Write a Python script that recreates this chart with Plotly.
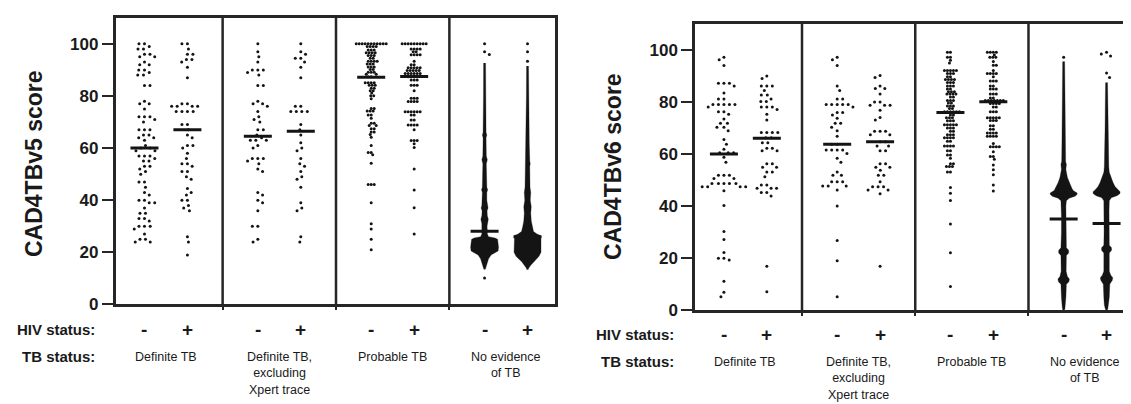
import plotly.graph_objects as go

# ---------------- data ----------------
tb_groups = ["Definite TB", "Definite TB,\nexcluding\nXpert trace", "Probable TB", "No evidence\nof TB"]
hiv_labels = ["-", "+"]
score_ticks = [0, 20, 40, 60, 80, 100]
panel_titles = ["CAD4TBv5 score", "CAD4TBv6 score"]

# ---- CAD4TBv5 individual scores ----
v5_def_neg = [100, 100, 99, 98, 98, 96, 96, 95, 95, 93, 92, 92, 90, 90, 89, 88, 88, 84, 84,
              78, 77, 77, 75, 72, 72, 72, 71, 70, 67, 67, 67, 65, 65, 64, 64, 63, 61, 60, 60,
              59, 59, 57, 57, 57, 56, 55, 55, 53, 53, 52, 51, 50, 47, 47, 45, 43, 42, 40, 40,
              39, 39, 37, 35, 35, 33, 33, 32, 30, 30, 30, 29, 27, 25, 25, 24, 24]
v5_def_pos = [100, 100, 98, 96, 96, 94, 94, 93, 91, 87, 77, 77, 76, 76, 76, 76, 74, 74, 74, 74,
              69, 69, 67, 65, 64, 61, 61, 60, 58, 56, 54, 54, 53, 51, 51, 49, 48, 44.5, 43, 42,
              40, 40, 38, 37, 36, 26, 24, 19]
v5_exc_neg = [100, 97, 95, 93, 90, 90, 90, 89, 88, 84, 84, 78, 77, 77, 76, 74, 72, 71, 70, 67,
              67, 65, 64, 63, 63, 63, 61, 60, 56, 56, 56, 55, 54, 52, 51, 43, 42, 40, 39, 36,
              30, 30, 25, 24]
v5_exc_pos = [100, 97, 96, 94.5, 94.5, 93, 91, 87, 76, 76, 74, 74, 74, 74, 69, 67, 65, 62, 60,
              59, 56, 54, 53, 51, 49, 48, 45, 39, 37, 36, 26, 24]
v5_prob_neg = [100, 100, 100, 100, 100, 100, 100, 100, 100, 100, 100,
               99, 99, 99, 99, 97.6, 97.6, 97.6, 96.6, 96.6, 96.6, 96.6, 95.5, 95.5, 95.5,
               94.5, 94.5, 93.3, 93.3, 93.3, 93.3, 92.3, 92.3, 92.3, 91.1, 91.1, 91.1,
               90.1, 90.1, 89.1, 89.1, 89.1, 88.3, 88.3, 87.4, 87.4,
               85.1, 85.1, 85.1, 85.1, 84.1, 84.1, 84.1, 83, 83, 82, 82, 81.1, 80.1, 80.1,
               78.9, 75.2, 75.2, 74.2, 74.2, 74.2, 72.7, 72.7, 71.4, 69.5, 69.5, 68.7, 68.7,
               67.4, 67.4, 66.2, 66.2, 65.2, 64.2, 61, 58.3, 58.3, 57.4, 54.2,
               46, 46, 46, 39, 31, 29, 25, 21]
v5_prob_pos = [100, 100, 100, 100, 100, 100, 100, 100, 100,
               98, 98, 98, 98, 97, 97, 95.8, 95.8, 95.8, 95.8, 93.3, 92, 92,
               90.8, 90.8, 90.8, 90.8, 90.8, 89.8, 89.8, 89.8, 89.8, 89.8,
               88.6, 88.6, 88.6, 88.6, 88.6, 88.6, 87.4, 87.4, 87.4, 87.4,
               86.1, 86.1, 86.1, 84.1, 84.1, 84.1, 82, 79.1, 79.1, 79.1, 77.9, 77.9, 77.9, 77.9,
               73.9, 73.9, 73.9, 73.9, 73.9, 73.9, 72.7, 72.7, 70.8, 70.8,
               68.9, 68.9, 68.9, 68.9, 67, 62.9, 62.9, 62.9, 61.7, 60.2, 52, 43.9, 37.1, 27]
v5_none_neg = [100, 97, 95.9, 10.2]
v5_none_pos = [100, 97, 93.3]

# ---- CAD4TBv6 individual scores ----
v6_def_neg = [97.1, 96.1, 93.9, 87.1, 87.1, 87.1, 86.1, 83.4, 81.1, 81.1, 79, 79, 79, 79, 79,
              78, 76.2, 76.2, 75.2, 73.4, 71.8, 71.8, 70.2, 70.2, 68.9, 65.5, 63.7, 61.8,
              60.5, 60.5, 60.5, 58.7, 56.8, 51.8, 51.8, 51.8, 50.6, 50.6,
              48.7, 48.7, 48.7, 48.7, 48.7, 47.4, 47.4, 47.4, 47.4, 45.9, 40.2, 30.2, 27.2,
              22.2, 20, 20, 19.3, 11.2, 6.9, 5.2]
v6_def_pos = [89.9, 88.9, 86.1, 86.1, 86.1, 84.3, 82.6, 82.6, 81.1, 80.1, 80.1, 78, 78, 78, 77,
              75.2, 73, 68.2, 68.2, 68.2, 68.2, 66.2, 66.2, 64.3, 64.3, 62.2, 62.2, 61.2, 61.2,
              56.2, 56.2, 54.9, 54.9, 53.1, 53.1, 51.2, 48.1, 48.1, 46.8, 46.8, 46.8,
              45.2, 45.2, 43.9, 16.9, 7.1]
v6_exc_neg = [97.1, 96.1, 93.9, 86.1, 84.3, 81.1, 81.1, 79, 79, 79, 79, 79, 78, 75.9, 75.9,
              74.9, 73.7, 71.8, 71.8, 70.2, 68.9, 66.8, 63.7, 63.7, 61.5, 61.5, 61.5, 61.5,
              60.2, 58.3, 56.8, 53.1, 51.8, 51.8, 49.3, 49.3, 49.3, 47.7, 47.7, 47.7, 46.2,
              40, 26.8, 19, 5.2]
v6_exc_pos = [90.1, 89.3, 86.1, 85.1, 85.1, 83, 79.9, 79.9, 78.7, 78.7, 78.7, 76.8, 74, 73,
              68.7, 68.7, 68.7, 67.4, 67.4, 64.7, 64.7, 63, 63, 61.2, 61.2, 56.2, 56.2,
              54.9, 54.9, 53.7, 51.8, 51.8, 49.3, 47.4, 47.4, 47.4, 46.2, 46.2, 44.7, 16.9]
v6_prob_neg = [99, 99, 97.1, 97.1, 95.9, 94.9, 92, 92, 92, 92, 92, 90.9, 90.9, 90.9,
               89.6, 89.6, 88.6, 88.6, 88.6, 88.6, 87.4, 87.4, 87.4, 86.1, 86.1, 86.1,
               84.9, 84.9, 83.9, 83.9, 83.9, 83, 83, 83, 83, 81.8, 81.8, 80.5, 80.5, 80.5,
               79.5, 79.5, 78.4, 78.4, 78.4, 77.4, 77.4, 76.2, 76.2, 76.2, 76.2, 76.2, 76.2,
               74.9, 74.9, 73.9, 73.9, 73.9, 72.7, 72.7, 72.7, 71.2, 71.2, 71.2, 71.2, 71.2,
               69.9, 69.9, 69.9, 68.7, 68.7, 67.4, 67.4, 67.4, 66.2, 66.2, 66.2, 66.2,
               64.9, 64.9, 63, 63, 63, 63, 61.2, 61.2, 59.6, 59.6, 58.3, 56.2, 56.2,
               55.2, 55.2, 55.2, 53.1, 53.1, 47.1, 44.9, 42.1, 33.1, 22.1, 9.1]
v6_prob_pos = [99, 99, 99, 99, 98, 97.1, 97.1, 97.1, 95.5, 94, 94, 92,
               90.9, 90.9, 90.9, 90.9, 89.6, 88, 88, 88, 86.1, 86.1, 84.9, 84.9, 84.9,
               83, 83, 83, 81.5, 81.5, 80.5, 80.5, 80.5, 80.5, 80.5, 80.5, 80.5,
               79.3, 79.3, 79.3, 79.3, 78, 78, 76.2, 76.2, 76.2, 73.9, 73.9, 73.9, 73.9, 73.9,
               72.8, 72.8, 72.8, 70.8, 70.8, 69.5, 69.5, 68, 68, 68, 68, 66.8, 66.8, 66.8, 66.8,
               64, 62.8, 62.8, 62.8, 62.8, 60.8, 59, 59, 58, 55.8, 53.9, 52, 48.1, 45.8]
v6_none_neg = [97.1]
v6_none_pos = [99, 98.3, 97.6, 91, 89.3]

# ---- medians (8 columns: group x HIV-/HIV+) ----
v5_medians = [60, 67, 64.5, 66.5, 87.2, 87.5, 28.1, 26]
v6_medians = [60, 66, 63.7, 64.7, 75.9, 80, 35, 33.3]

# ---- "No evidence of TB": too many points -> relative density profile (score level, relative density)
v5_none_neg_levels = [92.6, 80, 70, 66, 65, 64, 57, 55.5, 54, 50, 45, 44, 43, 40, 38, 37, 36, 34, 32.7,
                      31, 30, 28.3, 27, 26, 25.5, 25, 24, 22, 20.5, 19.8, 19, 17.5, 16, 14.5, 13.5]
v5_none_neg_density = [2, 2.2, 2.5, 3, 4.5, 3, 3.5, 5.5, 3.5, 4, 4.5, 6.2, 4.5, 4.5, 5.5, 7, 5, 5.5, 7.5,
                       5.5, 5, 5.5, 5.5, 8, 21, 26, 27, 28, 27, 21, 13, 8, 5, 3, 1.5]
v5_none_pos_levels = [91.5, 80, 70, 62, 55, 54, 53, 50, 45, 43, 40, 37.5, 35, 32, 30, 28, 27, 26.5,
                      25, 22, 20, 18.5, 17.5, 16.5, 15, 14, 13.4]
v5_none_pos_density = [2, 2.3, 3, 3.5, 4.5, 5.5, 4.5, 4.5, 5, 6.5, 5.5, 7.5, 6.5, 7.5, 9.5, 12, 19, 26,
                       27, 27, 27, 23, 18, 12, 6.5, 2.5, 1.5]
v6_none_neg_levels = [95.5, 80, 70, 64, 57, 56, 54, 51, 49, 47, 46, 45, 44.5, 43.8, 43, 42, 40, 36,
                      30, 27, 24, 23, 22, 21, 15, 13, 12, 11, 10, 5, 2, 0.5, 0]
v6_none_neg_density = [2, 2.5, 3, 3.5, 4, 5.5, 4.5, 7.5, 11, 16, 19, 27, 27, 23, 11, 5.5, 4.5, 4.5,
                       4.5, 4.5, 5.5, 10, 10, 5.5, 5, 7.5, 11.5, 10.5, 5.5, 4.5, 3.5, 2.5, 1]
v6_none_pos_levels = [87.4, 80, 70, 60, 55, 53, 51, 49, 47.5, 46.2, 45.5, 44.8, 44, 43.2, 42, 38,
                      30, 25, 24, 23, 22, 15, 13.5, 12.5, 11.5, 10, 5, 2, 0.5, 0]
v6_none_pos_density = [2, 2.5, 3, 3.5, 4.5, 5.5, 8.5, 13, 17, 23, 27, 27, 21, 9.5, 5.5, 5,
                       5, 5.5, 10, 10, 5.5, 5.5, 8.5, 12.5, 11.5, 6.5, 5.5, 4.5, 2.5, 1]

panel_points = [
    [v5_def_neg, v5_def_pos, v5_exc_neg, v5_exc_pos, v5_prob_neg, v5_prob_pos, v5_none_neg, v5_none_pos],
    [v6_def_neg, v6_def_pos, v6_exc_neg, v6_exc_pos, v6_prob_neg, v6_prob_pos, v6_none_neg, v6_none_pos],
]
panel_medians = [v5_medians, v6_medians]
panel_profiles = [
    [(v5_none_neg_levels, v5_none_neg_density), (v5_none_pos_levels, v5_none_pos_density)],
    [(v6_none_neg_levels, v6_none_neg_density), (v6_none_pos_levels, v6_none_pos_density)],
]

# ---------------- layout constants ----------------
W, H = 1131, 404
YMAX = 110
COL0, HIV_STEP, GROUP_STEP, XMAX = 29, 43, 113.5, 440
INK = "#141414"
FRAME = "#262626"
FONT = "Liberation Sans, Arial, sans-serif"
panels_px = [
    dict(left=107.5, right=547, top=10, bottom=304, title_x=26, title_y=160, hiv_y=330, tb_y=357),
    dict(left=687, right=1126, top=16, bottom=310, title_x=605, title_y=163, hiv_y=335, tb_y=362),
]
DENSE_COLS = {4, 5}


def col_x(j):
    return (j // 2) * GROUP_STEP + (j % 2) * HIV_STEP + COL0


def swarm(values, y_ppu, d):
    """Greedy beeswarm; returns horizontal offsets in px."""
    placed = []
    res = [0.0] * len(values)
    order = sorted(range(len(values)), key=lambda i: -values[i])
    for n, i in enumerate(order):
        y = values[i] * y_ppu
        near = [(px, py) for px, py in placed if abs(py - y) < d]
        k = 0
        best = None
        while best is None:
            if k == 0:
                cands = [0.0]
            else:
                cands = [k * 0.25, -k * 0.25] if n % 2 == 0 else [-k * 0.25, k * 0.25]
            for c in cands:
                if all((c - px) ** 2 + (y - py) ** 2 >= d * d - 1e-9 for px, py in near):
                    best = c
                    break
            k += 1
        placed.append((best, y))
        res[i] = best
    return res


fig = go.Figure()
annotations = []
shapes = []
layout_axes = {}

for p, geo in enumerate(panels_px):
    xa = "x" if p == 0 else "x2"
    ya = "y" if p == 0 else "y2"
    x_ppu = (geo["right"] - geo["left"]) / XMAX
    y_ppu = (geo["bottom"] - geo["top"]) / YMAX

    # NE density profiles (drawn as filled silhouettes)
    for h, (levels, dens) in enumerate(panel_profiles[p]):
        c = col_x(6 + h)
        xs = [c + dd / 2 / x_ppu for dd in dens] + [c - dd / 2 / x_ppu for dd in reversed(dens)]
        ys = list(levels) + list(reversed(levels))
        fig.add_trace(go.Scatter(x=xs, y=ys, xaxis=xa, yaxis=ya, mode="lines", fill="toself",
                                 fillcolor=INK, line=dict(color=INK, width=0.3),
                                 hoverinfo="skip", showlegend=False))

    # individual dots
    for j, vals in enumerate(panel_points[p]):
        d = 2.8 if j in DENSE_COLS else 5.4
        offs = swarm(vals, y_ppu, d)
        c = col_x(j)
        fig.add_trace(go.Scatter(x=[c + o / x_ppu for o in offs], y=vals, xaxis=xa, yaxis=ya,
                                 mode="markers", marker=dict(size=3, color=INK, line=dict(width=0)),
                                 showlegend=False, hoverinfo="y"))

    # medians
    for j, m in enumerate(panel_medians[p]):
        c = col_x(j)
        fig.add_trace(go.Scatter(x=[c - 14 / x_ppu, c + 14 / x_ppu], y=[m, m], xaxis=xa, yaxis=ya,
                                 mode="lines", line=dict(color=INK, width=3),
                                 showlegend=False, hoverinfo="skip"))

    # group separators
    seps = [(col_x(2 * g - 1) + col_x(2 * g)) / 2 for g in range(1, 4)]
    for s in seps:
        shapes.append(dict(type="line", xref=xa, yref=f"{ya} domain", x0=s, x1=s, y0=0, y1=1,
                           line=dict(color=FRAME, width=2.5)))

    xdom = [geo["left"] / W, geo["right"] / W]
    ydom = [1 - geo["bottom"] / H, 1 - geo["top"] / H]
    xkey = "xaxis" if p == 0 else "xaxis2"
    ykey = "yaxis" if p == 0 else "yaxis2"
    layout_axes[xkey] = dict(domain=xdom, range=[0, XMAX], anchor=ya, showline=True, mirror=True,
                             linewidth=2.5, linecolor=FRAME, showgrid=False, zeroline=False,
                             tickvals=seps, ticks="outside", ticklen=3, tickwidth=1.5,
                             tickcolor=FRAME, showticklabels=False, fixedrange=True)
    layout_axes[ykey] = dict(domain=ydom, range=[0, YMAX], anchor=xa, showline=True, mirror=True,
                             linewidth=2.5, linecolor=FRAME, showgrid=False, zeroline=False,
                             tickvals=score_ticks, ticks="outside", ticklen=11, tickwidth=2,
                             tickcolor=FRAME,
                             tickfont=dict(family=FONT, size=17, color="#1a1a1a", weight="bold"),
                             fixedrange=True)

    # y title
    annotations.append(dict(text=panel_titles[p], xref="paper", yref="paper",
                            x=geo["title_x"] / W, y=1 - geo["title_y"] / H, textangle=-90,
                            showarrow=False, xanchor="center", yanchor="middle",
                            font=dict(family=FONT, size=23, color="#1a1a1a", weight="bold")))
    # row labels
    for txt, yy in (("HIV status:", geo["hiv_y"]), ("TB status:", geo["tb_y"])):
        annotations.append(dict(text=txt, xref="paper", yref="paper", x=(geo["left"] - 19) / W,
                                y=1 - yy / H, xanchor="right", yanchor="middle", showarrow=False,
                                font=dict(family=FONT, size=15, color="#1a1a1a", weight="bold")))
    for j in range(8):
        annotations.append(dict(text=hiv_labels[j % 2], xref=xa, yref="paper", x=col_x(j),
                                y=1 - geo["hiv_y"] / H, xanchor="center", yanchor="middle",
                                showarrow=False,
                                font=dict(family=FONT, size=19, color="#1a1a1a", weight="bold")))
    for g, lab in enumerate(tb_groups):
        cx = (col_x(2 * g) + col_x(2 * g + 1)) / 2
        annotations.append(dict(text=lab.replace("\n", "<br>"), xref=xa, yref="paper", x=cx,
                                y=1 - (geo["tb_y"] - 8) / H, xanchor="center", yanchor="top",
                                align="center", showarrow=False,
                                font=dict(family=FONT, size=12.5, color="#1a1a1a")))

fig.update_layout(width=W, height=H, margin=dict(l=0, r=0, t=0, b=0), autosize=False,
                  plot_bgcolor="white", paper_bgcolor="white", showlegend=False,
                  annotations=annotations, shapes=shapes, **layout_axes)

fig.write_html("out.html")
